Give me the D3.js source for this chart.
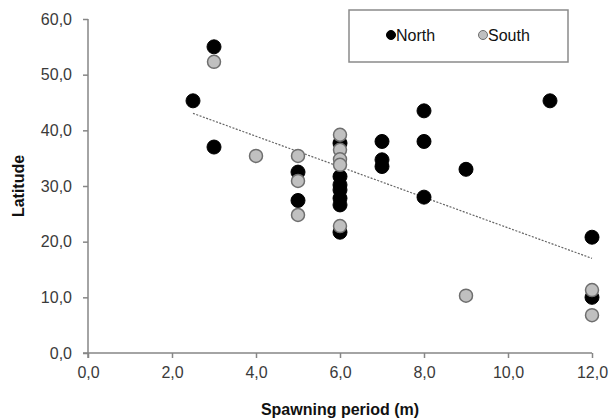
<!DOCTYPE html>
<html>
<head>
<meta charset="utf-8">
<script src="https://cdn.jsdelivr.net/npm/d3@7"></script>
<style>
  html, body { margin: 0; padding: 0; background: #fff; }
  svg { display: block; font-family: "Liberation Sans", Arial, sans-serif; }
</style>
</head>
<body>
<svg id="chart" width="611" height="420"></svg>
<script>
// ---- data ----
const seriesNames = ["North", "South"];
const northX = [2.5, 3, 3, 5, 5, 6, 6, 6, 6, 6, 6, 6, 7, 7, 7, 8, 8, 8, 9, 11, 12, 12];
const northY = [45.3, 55.0, 37.0, 32.5, 27.4, 37.7, 31.7, 30.2, 29.3, 27.8, 26.6, 21.7, 38.0, 34.7, 33.5, 43.5, 38.0, 28.0, 33.0, 45.3, 20.8, 10.0];
const southX = [3, 4, 5, 5, 5, 6, 6, 6, 6, 6, 9, 12, 12];
const southY = [52.3, 35.4, 35.4, 30.9, 24.8, 39.2, 36.5, 34.8, 33.8, 22.8, 10.3, 11.3, 6.8];
const trendX = [2.5, 12];
const trendY = [43.05, 17.0];
const xTicks = [0, 2, 4, 6, 8, 10, 12];
const yTicks = [0, 10, 20, 30, 40, 50, 60];
const xTitle = "Spawning period (m)";
const yTitle = "Latitude";

(function () {
const fmt = v => d3.format(".1f")(v).replace(".", ",");

const svg = d3.select("#chart");
const pLeft = 88, pRight = 592, pTop = 19, pBottom = 353;
const x = d3.scaleLinear().domain([0, 12]).range([pLeft, pRight]);
const y = d3.scaleLinear().domain([0, 60]).range([pBottom, pTop]);

const axisColor = "#868686";
const textColor = "#3a3a3a";

// axes
const gx = svg.append("g").attr("transform", `translate(0,${pBottom})`)
  .call(d3.axisBottom(x).tickValues(xTicks).tickFormat(fmt).tickSize(5).tickPadding(9));
const gy = svg.append("g").attr("transform", `translate(${pLeft},0)`)
  .call(d3.axisLeft(y).tickValues(yTicks).tickFormat(fmt).tickSize(5).tickPadding(11));
[gx, gy].forEach(g => {
  g.select(".domain").attr("stroke", axisColor).attr("stroke-width", 1.5);
  g.selectAll(".tick line").attr("stroke", axisColor).attr("stroke-width", 1.5);
  g.selectAll(".tick text").attr("fill", textColor)
    .style("font-family", "'Liberation Sans', Arial, sans-serif").style("font-size", "16px");
});
gx.select(".domain").attr("d", `M${pLeft - 5},0H${pRight}`);
gy.select(".domain").attr("d", `M0,${pBottom + 5}V${pTop}`);

// axis titles
svg.append("text").attr("x", (pLeft + pRight) / 2).attr("y", 415)
  .attr("text-anchor", "middle").attr("fill", "#111")
  .style("font-weight", "bold").style("font-size", "16px").text(xTitle);
svg.append("text").attr("transform", `translate(24,${(pTop + pBottom) / 2}) rotate(-90)`)
  .attr("text-anchor", "middle").attr("fill", "#111")
  .style("font-weight", "bold").style("font-size", "16px").text(yTitle);

// trend line
svg.append("line")
  .attr("x1", x(trendX[0])).attr("y1", y(trendY[0]))
  .attr("x2", x(trendX[1])).attr("y2", y(trendY[1]))
  .attr("stroke", "#666").attr("stroke-width", 1.2).attr("stroke-dasharray", "2,1.5");

// points
const north = northX.map((v, i) => ({ x: v, y: northY[i] }));
const south = southX.map((v, i) => ({ x: v, y: southY[i] }));
svg.append("g").selectAll("circle").data(north).join("circle")
  .attr("cx", d => x(d.x)).attr("cy", d => y(d.y)).attr("r", 7)
  .attr("fill", "#000").attr("stroke", "#000").attr("stroke-width", 1);
svg.append("g").selectAll("circle").data(south).join("circle")
  .attr("cx", d => x(d.x)).attr("cy", d => y(d.y)).attr("r", 6.5)
  .attr("fill", "#c0c0c0").attr("stroke", "#6e6e6e").attr("stroke-width", 1.5);

// legend
const lg = svg.append("g");
lg.append("rect").attr("x", 349).attr("y", 10).attr("width", 219).attr("height", 52)
  .attr("fill", "#fff").attr("stroke", "#8a8a8a").attr("stroke-width", 1.5);
const legendItems = [
  { name: seriesNames[0], cx: 391, fill: "#000", stroke: "#000" },
  { name: seriesNames[1], cx: 483, fill: "#c0c0c0", stroke: "#6e6e6e" }
];
legendItems.forEach(it => {
  lg.append("circle").attr("cx", it.cx).attr("cy", 35).attr("r", 4.5)
    .attr("fill", it.fill).attr("stroke", it.stroke).attr("stroke-width", 1);
  lg.append("text").attr("x", it.cx + 5).attr("y", 41).attr("fill", "#111")
    .style("font-size", "16px").text(it.name);
});
})();
</script>
</body>
</html>
